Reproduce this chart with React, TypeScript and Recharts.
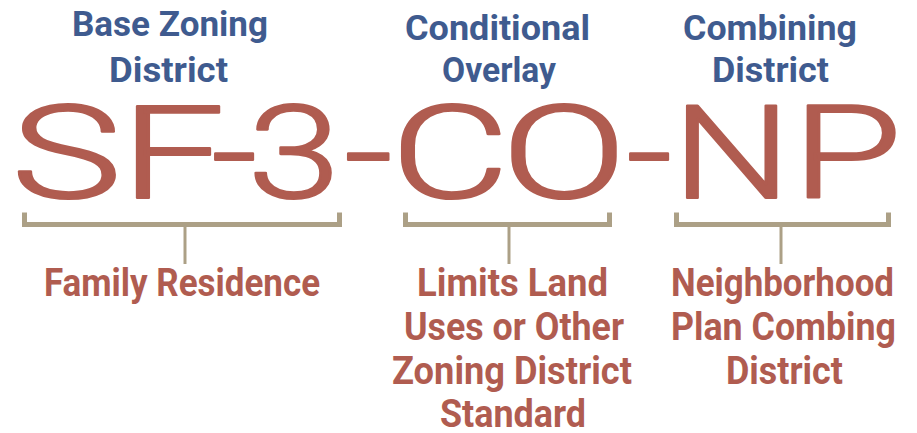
import React from "react";
import { ComposedChart, XAxis, YAxis, Scatter, ReferenceLine } from "recharts";

// ---------- content ----------
const codeGlyphs = ["S", "F", "-", "3", "-", "C", "O", "-", "N", "P"];
const groupCodes = ["SF-3", "CO", "NP"];
const groupTitles = [
  ["Base Zoning", "District"],
  ["Conditional", "Overlay"],
  ["Combining", "District"],
];
const groupDescriptions = [
  ["Family Residence"],
  ["Limits Land", "Uses or Other", "Zoning District", "Standard"],
  ["Neighborhood", "Plan Combing", "District"],
];

// ---------- layout (axis units = pixels) ----------
const W = 917;
const H = 433;
const glyphSpans = [
  [19, 114], [131, 214], [218, 251], [256, 332], [351, 386],
  [399, 501], [509, 619], [633, 666], [684, 779], [803, 891],
];
const glyphBaseline = 198;
const inkRatio: Record<string, number> = { S: 0.86, F: 0.8, "-": 0.72, "3": 0.82, C: 0.86, O: 0.88, N: 0.8, P: 0.8 };
const bracketSpans = [
  [22, 342, 185],
  [403, 612, 509],
  [674, 891, 781],
];
const titleSpans = [
  [[73, 267, 36], [110, 227, 82]],
  [[406, 589, 40], [443, 555, 82]],
  [[684, 856, 40], [713, 828, 82]],
];
const descSpans = [
  [[45, 319, 296]],
  [[418, 607, 296], [405, 623, 340], [393, 631, 384], [441, 585, 427]],
  [[672, 893, 296], [672, 895, 340], [727, 842, 384]],
];

const RED = "#b05c50";
const BLUE = "#3f5b8f";
const TAN = "#aca086";

type Item = { x: number; y: number; text: string; kind: string; w: number };

const items: Item[] = [];
codeGlyphs.forEach((g, i) => {
  const [a, b] = glyphSpans[i];
  items.push({ x: (a + b) / 2, y: glyphBaseline, text: g, kind: "code", w: (b - a) / (inkRatio[g] || 0.82) });
});
groupTitles.forEach((lines, gi) =>
  lines.forEach((t, li) => {
    const [a, b, base] = titleSpans[gi][li];
    items.push({ x: (a + b) / 2, y: base, text: t, kind: "title", w: b - a + 2 });
  })
);
groupDescriptions.forEach((lines, gi) =>
  lines.forEach((t, li) => {
    const [a, b, base] = descSpans[gi][li];
    items.push({ x: (a + b) / 2, y: base, text: t, kind: "desc", w: b - a + 2 });
  })
);

const TextShape = (props: any) => {
  const { cx, cy, payload } = props;
  if (cx == null || cy == null) return null;
  const p = payload as Item;
  if (p.kind === "code") {
    return (
      <text x={cx} y={cy} textAnchor="middle" fill={RED} stroke={RED} strokeWidth={2.2} strokeLinejoin="round"
        fontFamily="Roboto, 'DejaVu Sans', sans-serif"
        fontWeight={300} fontSize={130} textLength={p.w} lengthAdjust="spacingAndGlyphs">
        {p.text}
      </text>
    );
  }
  const isTitle = p.kind === "title";
  return (
    <text x={cx} y={cy} textAnchor="middle" fill={isTitle ? BLUE : RED} fontFamily="Roboto, 'DejaVu Sans', sans-serif"
      fontWeight={700} fontSize={isTitle ? 35 : 38} textLength={p.w} lengthAdjust="spacingAndGlyphs">
      {p.text}
    </text>
  );
};

export default function App() {
  return (
    <div style={{ position: "absolute", left: 0, top: 0, width: W, height: H, background: "#fff" }}>
      <ComposedChart width={W} height={H} margin={{ top: 0, right: 0, bottom: 0, left: 0 }} data={items}>
        <XAxis type="number" dataKey="x" domain={[0, W]} hide allowDataOverflow />
        <YAxis type="number" dataKey="y" domain={[0, H]} reversed hide allowDataOverflow />
        {bracketSpans.map(([l, r], i) => (
          <ReferenceLine key={`h${i}`} segment={[{ x: l, y: 224.5 }, { x: r, y: 224.5 }]} stroke={TAN} strokeWidth={5} ifOverflow="visible" />
        ))}
        {bracketSpans.map(([l], i) => (
          <ReferenceLine key={`l${i}`} segment={[{ x: l + 2.5, y: 212.5 }, { x: l + 2.5, y: 227 }]} stroke={TAN} strokeWidth={5} ifOverflow="visible" />
        ))}
        {bracketSpans.map(([, r], i) => (
          <ReferenceLine key={`r${i}`} segment={[{ x: r - 2.5, y: 212.5 }, { x: r - 2.5, y: 227 }]} stroke={TAN} strokeWidth={5} ifOverflow="visible" />
        ))}
        {bracketSpans.map(([, , c], i) => (
          <ReferenceLine key={`c${i}`} segment={[{ x: c, y: 227 }, { x: c, y: 264 }]} stroke={TAN} strokeWidth={3} ifOverflow="visible" />
        ))}
        <Scatter name={groupCodes.join("-")} data={items} dataKey="y" isAnimationActive={false} shape={TextShape} />
      </ComposedChart>
    </div>
  );
}
